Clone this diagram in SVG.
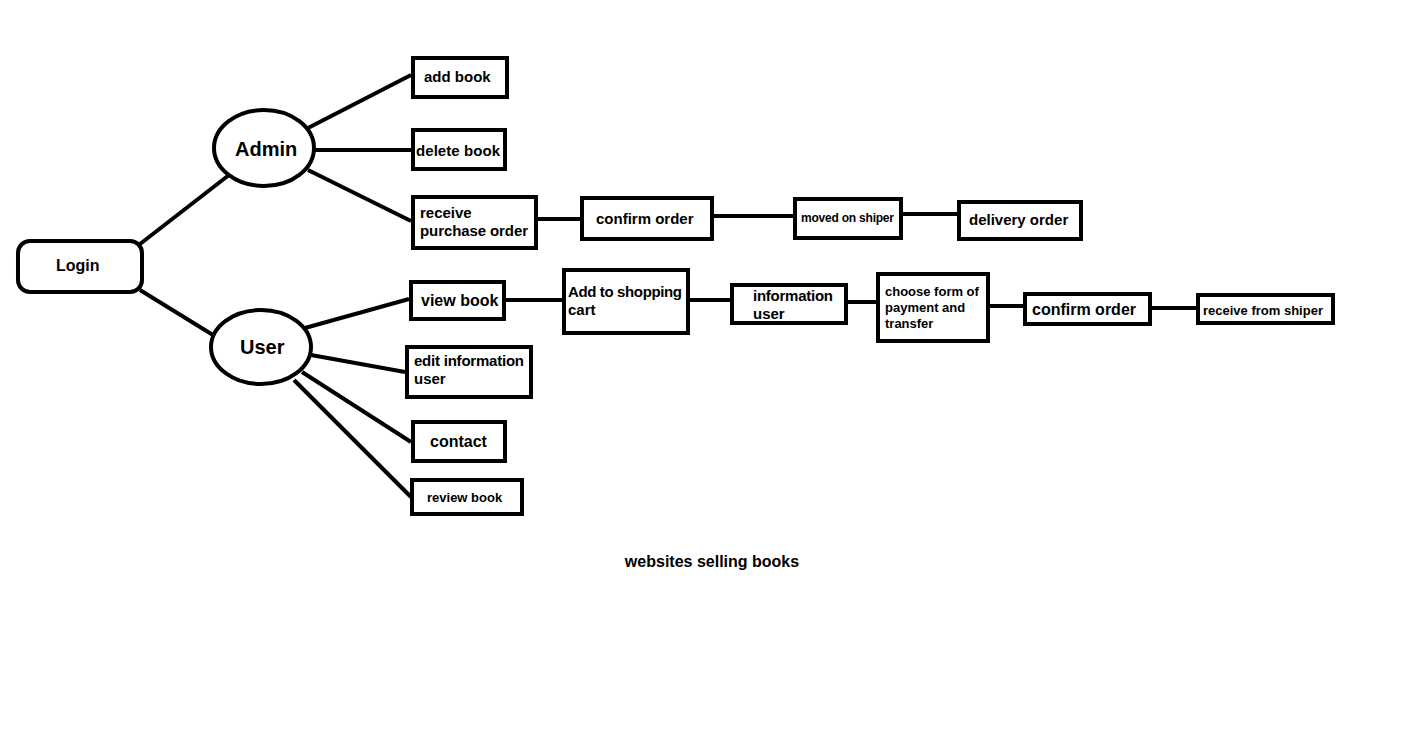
<svg xmlns="http://www.w3.org/2000/svg" width="1405" height="741" viewBox="0 0 1405 741">
<style>
.n{fill:#fff;stroke:#000;stroke-width:4}
.c line{stroke:#000;stroke-width:4}
text{font-family:"Liberation Sans",Arial,sans-serif;font-weight:bold;fill:#000}
.t15{font-size:15px}.t13{font-size:13px}.t12{font-size:12px}.t16{font-size:16px}.t20{font-size:20px}
</style>
<rect width="1405" height="741" fill="#fff"/>
<g class="c" id="connectors">
<line x1="140" y1="244" x2="229" y2="175"/>
<line x1="140" y1="290" x2="213" y2="335"/>
<line x1="308" y1="128" x2="411" y2="75"/>
<line x1="314" y1="150" x2="411" y2="150"/>
<line x1="308" y1="170" x2="411" y2="221"/>
<line x1="538" y1="219" x2="580" y2="219"/>
<line x1="714" y1="216" x2="793" y2="216"/>
<line x1="903" y1="214" x2="957" y2="214"/>
<line x1="305" y1="328" x2="409" y2="299"/>
<line x1="506" y1="300" x2="562" y2="300"/>
<line x1="690" y1="300" x2="730" y2="300"/>
<line x1="848" y1="302" x2="876" y2="302"/>
<line x1="990" y1="306" x2="1023" y2="306"/>
<line x1="1152" y1="308" x2="1196" y2="308"/>
<line x1="311" y1="355" x2="405" y2="372"/>
<line x1="302" y1="372" x2="411" y2="442"/>
<line x1="294" y1="380" x2="411" y2="497"/>
</g>
<g id="login"><rect class="n" x="18" y="241" width="124" height="51" rx="12"/><text class="t16" x="56" y="271">Login</text></g>
<g id="admin"><ellipse class="n" cx="264" cy="148" rx="50" ry="38"/><text class="t20" x="235" y="156">Admin</text></g>
<g id="user"><ellipse class="n" cx="261" cy="347" rx="50" ry="37"/><text class="t20" x="240" y="354">User</text></g>
<g id="add-book"><rect class="n" x="413" y="58" width="94" height="39"/><text class="t15" x="424" y="82">add book</text></g>
<g id="delete-book"><rect class="n" x="413" y="130" width="92" height="39"/><text class="t15" x="416" y="156" textLength="84">delete book</text></g>
<g id="receive-purchase-order"><rect class="n" x="413" y="197" width="123" height="51"/><text class="t15" x="420" y="218">receive</text><text class="t15" x="420" y="236" textLength="108">purchase order</text></g>
<g id="confirm-order-1"><rect class="n" x="582" y="198" width="130" height="41"/><text class="t15" x="596" y="224">confirm order</text></g>
<g id="moved-on-shiper"><rect class="n" x="795" y="199" width="106" height="39"/><text class="t12" x="801" y="222" textLength="93">moved on shiper</text></g>
<g id="delivery-order"><rect class="n" x="959" y="202" width="122" height="37"/><text class="t15" x="969" y="225">delivery order</text></g>
<g id="view-book"><rect class="n" x="411" y="282" width="93" height="37"/><text class="t16" x="421" y="306">view book</text></g>
<g id="add-to-cart"><rect class="n" x="564" y="270" width="124" height="63"/><text class="t15" x="568" y="297" textLength="114">Add to shopping</text><text class="t15" x="568" y="315">cart</text></g>
<g id="information-user"><rect class="n" x="732" y="285" width="114" height="38"/><text class="t15" x="753" y="301" textLength="80">information</text><text class="t15" x="753" y="319">user</text></g>
<g id="choose-payment"><rect class="n" x="878" y="274" width="110" height="67"/><text class="t13" x="885" y="296">choose form of</text><text class="t13" x="885" y="312">payment and</text><text class="t13" x="885" y="328">transfer</text></g>
<g id="confirm-order-2"><rect class="n" x="1025" y="294" width="125" height="30"/><text class="t16" x="1032" y="315">confirm order</text></g>
<g id="receive-from-shiper"><rect class="n" x="1198" y="295" width="135" height="28"/><text class="t13" x="1203" y="315">receive from shiper</text></g>
<g id="edit-information-user"><rect class="n" x="407" y="347" width="124" height="50"/><text class="t15" x="414" y="366" textLength="110">edit information</text><text class="t15" x="414" y="384">user</text></g>
<g id="contact"><rect class="n" x="413" y="422" width="92" height="39"/><text class="t16" x="430" y="447">contact</text></g>
<g id="review-book"><rect class="n" x="412" y="480" width="110" height="34"/><text class="t13" x="427" y="502">review book</text></g>
<text class="t16" x="712" y="567" text-anchor="middle">websites selling books</text>
</svg>
